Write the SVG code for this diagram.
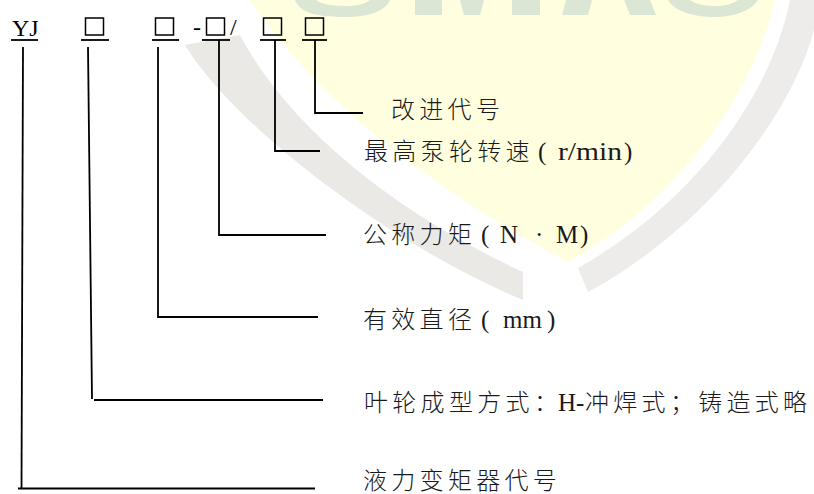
<svg xmlns="http://www.w3.org/2000/svg" width="814" height="494" viewBox="0 0 814 494">
<style>
.cjk{font-family:"Noto Sans CJK SC",sans-serif;font-size:24px;font-weight:300;letter-spacing:4.3px;fill:#1a1a1a;}
.lat{font-family:"Liberation Serif",serif;font-size:25px;fill:#1a1a1a;letter-spacing:0;}
.hdr{font-family:"Liberation Serif",serif;font-size:24px;fill:#000;}
.box{fill:none;stroke:#000;stroke-width:1.5;}
.ln{fill:none;stroke:#000;stroke-width:1.8;}
</style>
<rect width="814" height="494" fill="#ffffff"/>
<g id="watermark">
  <path d="M250,0 L775,0 C755,90 680,200 568,262 C470,210 330,120 250,0 Z" fill="#ffffe0"/>
  <path d="M185,45 C230,120 380,240 523,300 L523,272 C400,215 290,130 240,35 Z" fill="#ebe9e6"/>
  <path d="M578,268 C690,205 770,100 790,0 L814,0 L814,30 C790,120 700,232 588,292 Z" fill="#eeecea"/>
  <g fill="#dce6d5">
    <path d="M295,0 C300,14 320,17 345,17 C372,17 386,10 390,0 L370,0 C365,4 356,6 345,6 C330,6 319,3 316,0 Z"/>
    <rect x="415" y="0" width="27" height="15"/>
    <polygon points="460,0 484,0 480,15 464,15"/>
    <rect x="512" y="0" width="28" height="15"/>
    <polygon points="566,0 592,0 588,15 562,15"/>
    <polygon points="624,0 650,0 656,15 630,15"/>
    <path d="M668,0 C675,12 695,17 715,17 C735,17 752,10 758,0 L738,0 C732,4 724,6 715,6 C703,6 694,3 690,0 Z"/>
  </g>
</g>
<g id="model-code">
  <text class="hdr" x="12" y="36">YJ</text>
  <rect class="box" x="85.5" y="18" width="18" height="17"/>
  <rect class="box" x="155.5" y="18" width="18" height="17"/>
  <text class="hdr" x="193" y="35">-</text>
  <rect class="box" x="206.5" y="18" width="18" height="17"/>
  <text class="hdr" x="230" y="35">/</text>
  <rect class="box" x="263.5" y="18" width="18" height="17"/>
  <rect class="box" x="305.5" y="18" width="18" height="17"/>
  <g class="ln">
    <line x1="11" y1="40" x2="38" y2="40"/>
    <line x1="81" y1="40" x2="109" y2="40"/>
    <line x1="152" y1="40" x2="179" y2="40"/>
    <line x1="202" y1="40" x2="230" y2="40"/>
    <line x1="260" y1="40" x2="286" y2="40"/>
    <line x1="302" y1="40" x2="327" y2="40"/>
  </g>
</g>
<g id="connectors" class="ln">
  <polyline points="315,40 315,113 363,113"/>
  <polyline points="275,40 275,151 320,151"/>
  <polyline points="219,40 219,235 326,235"/>
  <polyline points="158,47 158,317 318,317"/>
  <polyline points="88,47 92,399"/>
  <line x1="94" y1="400" x2="323" y2="400"/>
  <polyline points="23,47 21.5,488"/>
  <line x1="18" y1="488.5" x2="315" y2="488.5"/>
</g>
<g id="label-improve"><text class="cjk" x="391" y="118">改进代号</text></g>
<g id="label-speed"><text y="160"><tspan class="cjk" x="364">最高泵轮转速</tspan><tspan class="lat" x="538">(</tspan><tspan class="lat" x="558" textLength="64" lengthAdjust="spacingAndGlyphs">r/min</tspan><tspan class="lat" x="624">)</tspan></text></g>
<g id="label-torque"><text y="243"><tspan class="cjk" x="363">公称力矩</tspan><tspan class="lat" x="481">(</tspan><tspan class="lat" x="500">N</tspan><tspan class="lat" x="535">·</tspan><tspan class="lat" x="556">M</tspan><tspan class="lat" x="580">)</tspan></text></g>
<g id="label-diameter"><text y="328"><tspan class="cjk" x="363">有效直径</tspan><tspan class="lat" x="481">(</tspan><tspan class="lat" x="503">mm</tspan><tspan class="lat" x="547">)</tspan></text></g>
<g id="label-forming"><text y="411"><tspan class="cjk" x="364">叶轮成型方式</tspan><tspan class="cjk" x="534" style="letter-spacing:0">：</tspan><tspan class="lat" x="558">H-</tspan><tspan class="cjk" x="585">冲焊式；铸造式略</tspan></text></g>
<g id="label-code"><text class="cjk" x="363" y="489">液力变矩器代号</text></g>
</svg>
